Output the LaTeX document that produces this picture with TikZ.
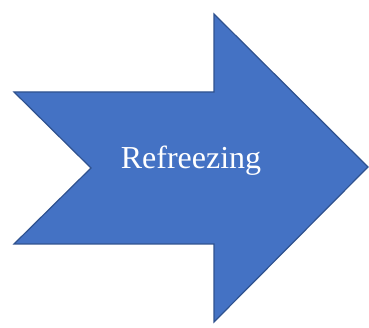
\documentclass[tikz,border=0pt]{standalone}
\usepackage{fontspec}
\setmainfont{Liberation Serif}
\definecolor{arrowfill}{HTML}{4472C4}
\definecolor{arrowline}{HTML}{2F528F}
\begin{document}
\begin{tikzpicture}[
        x=1pt, y=1pt,
        bigarrow/.style={draw=arrowline, line width=1.2pt, fill=arrowfill, line join=miter},
        label/.style={text=white, font=\fontsize{32}{38}\selectfont}
    ]
        \useasboundingbox (0,0) rectangle (369,328);
        % notched arrow
        \draw [bigarrow] (14,236) -- (91,160) -- (14,84) -- (214,84) -- (214,6)
            -- (368,161) -- (214,314) -- (214,236) -- cycle;
        \node (phase) [label] at (191,167) {Refreezing};
    \end{tikzpicture}
\end{document}
